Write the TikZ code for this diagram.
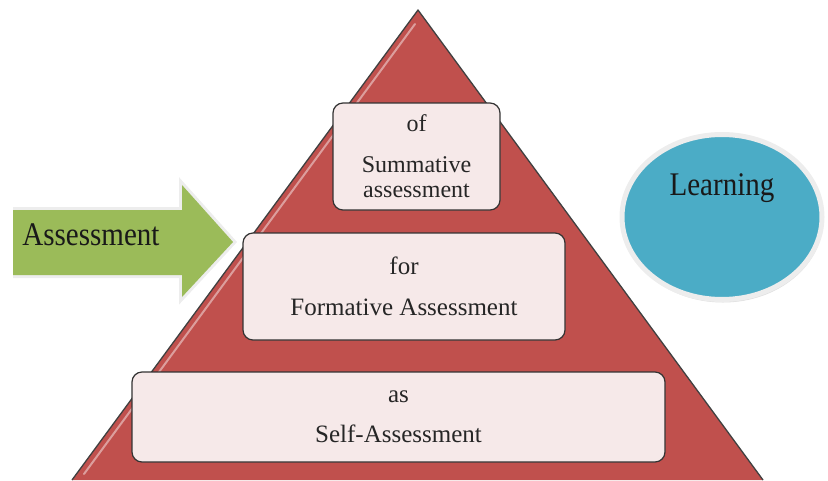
\documentclass[tikz,border=0pt]{standalone}
\usepackage{fontspec}
\setmainfont{Liberation Serif}
\newfontfamily\tallserif[FakeStretch=0.88]{Liberation Serif}
\usepackage{xcolor}
\usetikzlibrary{positioning, shapes.geometric, shadows}

\definecolor{pyramidred}{HTML}{C0504D}
\definecolor{tierfill}{HTML}{F6E9E9}
\definecolor{arrowgreen}{HTML}{9BBB59}
\definecolor{learnblue}{HTML}{4BACC6}
\definecolor{rimgray}{HTML}{EDEDED}

\begin{document}
\begin{tikzpicture}[
  x=1pt, y=-1pt,
  tier/.style={rectangle, rounded corners=10pt, draw=black!80, line width=1.2pt, fill=tierfill, align=center, inner sep=0pt, text=black!85, font=\fontsize{25}{25}\selectfont},
  bigword/.style={font={\tallserif\fontsize{33}{33}\selectfont}, text=black!90, inner sep=0pt, anchor=base},
  bubble/.style={ellipse, fill=learnblue, draw=rimgray, line width=5pt, drop shadow={opacity=0.25, shadow xshift=1pt, shadow yshift=-3pt}}
]
\useasboundingbox (0,0) rectangle (828,480);

% ---------------------------------------------------
% Pyramid
% ---------------------------------------------------
\def\xApex{418}
\def\yApex{10}
\fill[pyramidred] (\xApex,\yApex) -- (763,480) -- (72,480) -- cycle;
\draw[white, opacity=0.45, line width=2pt, line cap=round] (\xApex-3,\yApex+14) -- (84,474);
\draw[black!75, line width=1.3pt, line join=round] (72,480) -- (\xApex,\yApex) -- (763,480);

% ---------------------------------------------------
% Tiers (top to bottom)
% ---------------------------------------------------
\node[tier, minimum width=167pt, minimum height=107pt, font=\fontsize{24}{25}\selectfont] (summative) at (416.5,156.5) {of\\[16pt]Summative\\assessment};

\node[tier, minimum width=322pt, minimum height=107pt] (formative) at (404,286.5) {for\\[16pt]Formative Assessment};

\node[tier, minimum width=533pt, minimum height=90pt] (self) at (398.5,417) {as\\[15pt]Self-Assessment};

% ---------------------------------------------------
% Arrow on the left
% ---------------------------------------------------
\begin{scope}
  \clip (13,150) rectangle (260,320);
  \draw[rimgray, line width=6pt, line join=miter, fill=arrowgreen] (8,210) -- (182,210) -- (182,185) -- (233,242) -- (182,297) -- (182,275) -- (8,275) -- cycle;
  \fill[arrowgreen] (8,210) -- (182,210) -- (182,185) -- (233,242) -- (182,297) -- (182,275) -- (8,275) -- cycle;
\end{scope}
\node[bigword] (assessword) at (91,245) {Assessment};

% ---------------------------------------------------
% Ellipse on the right
% ---------------------------------------------------
\node[bubble, minimum width=200pt, minimum height=165pt] (learning) at (722,217) {};
\node[bigword] (learnword) at ([yshift=22pt]learning.center) {Learning};

\end{tikzpicture}
\end{document}
